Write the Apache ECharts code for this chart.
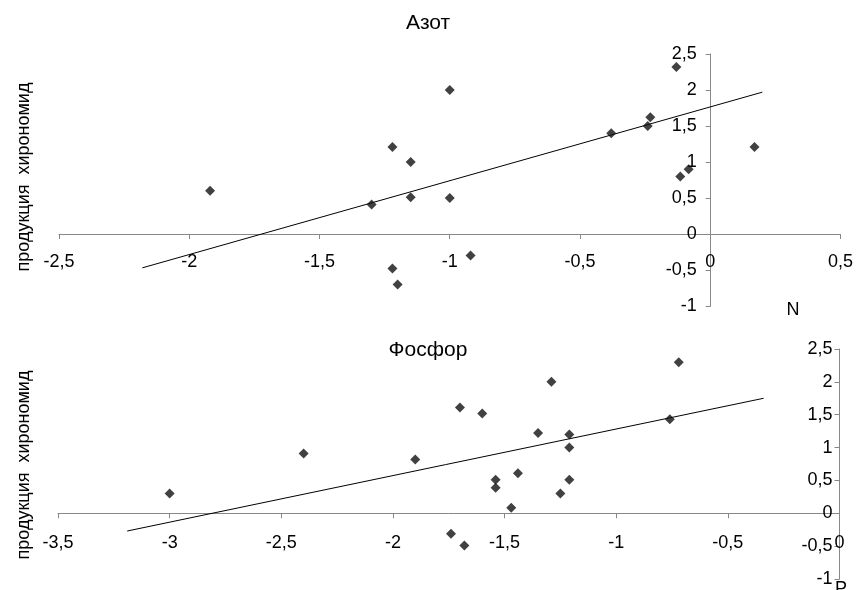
<!DOCTYPE html>
<html><head><meta charset="utf-8">
<script src="https://cdn.jsdelivr.net/npm/echarts@6/dist/echarts.min.js"></script>
<style>html,body{margin:0;padding:0;background:#fff}#c{width:856px;height:590px}</style>
</head><body><div id="c"></div>
<script>
// Азот (N)
const nX = [-1.92, -1.22, -1.15, -1.30, -1.15, -1.22, -1.20, -1.00, -1.00, -0.92, -0.38, -0.24, -0.23, -0.13, -0.115, -0.083, 0.17];
const nY = [0.60, 1.21, 1.00, 0.41, 0.51, -0.48, -0.70, 2.00, 0.50, -0.30, 1.40, 1.50, 1.62, 2.32, 0.80, 0.90, 1.21];
const nTrendX = [-2.18, 0.20];
const nTrendY = [-0.47, 1.97];
// Фосфор (P)
const pX = [-3.00, -2.40, -1.90, -1.70, -1.60, -1.29, -1.35, -1.21, -1.21, -1.44, -1.54, -1.54, -1.21, -1.25, -1.47, -1.74, -1.68, -0.76, -0.72];
const pY = [0.30, 0.91, 0.82, 1.61, 1.52, 2.00, 1.22, 1.20, 1.00, 0.61, 0.51, 0.39, 0.51, 0.30, 0.085, -0.31, -0.49, 1.43, 2.30];
const pTrendX = [-3.19, -0.34];
const pTrendY = [-0.27, 1.75];

const titles = ['Азот', 'Фосфор'];
const yName = 'продукция  хирономид';
const axisNames = ['N', 'P'];

const xRanges = [[-2.5, 0.5], [-3.5, 0]];
const yRange = [-1, 2.5];

const font = '"Liberation Sans", Arial, sans-serif';
const fmt = v => String(v).replace('.', ',');
const zip = (a, b) => a.map((v, i) => [v, b[i]]);

const grids = [
  { left: 59, top: 54, width: 782, height: 252 },
  { left: 58, top: 349, width: 781.5, height: 230 }
];

function xAx(gi, margin) {
  const g = grids[gi];
  const off = -(0 - yRange[0]) / (yRange[1] - yRange[0]) * g.height;
  return {
    type: 'value', gridIndex: gi, min: xRanges[gi][0], max: xRanges[gi][1], interval: 0.5,
    position: 'bottom', offset: off,
    splitLine: { show: false },
    axisLine: { onZero: false, lineStyle: { color: '#888', width: 1 } },
    axisTick: { show: true, length: 5, lineStyle: { color: '#888' } },
    axisLabel: { formatter: fmt, color: '#000', fontSize: 18, fontFamily: font, margin: margin }
  };
}
function yAx(gi, margin) {
  const g = grids[gi];
  const r = xRanges[gi];
  const off = -(0 - r[0]) / (r[1] - r[0]) * g.width;
  return {
    type: 'value', gridIndex: gi, min: yRange[0], max: yRange[1], interval: 0.5,
    position: 'left', offset: off,
    splitLine: { show: false },
    axisLine: { onZero: false, lineStyle: { color: '#888', width: 1 } },
    axisTick: { show: true, length: 5, lineStyle: { color: '#888' } },
    axisLabel: { formatter: fmt, color: '#000', fontSize: 18, fontFamily: font, margin: margin }
  };
}
const scat = (gi, xs, ys) => ({
  type: 'scatter', xAxisIndex: gi, yAxisIndex: gi, data: zip(xs, ys),
  symbol: 'diamond', symbolSize: 10, itemStyle: { color: '#111' }, silent: true
});
const trend = (gi, xs, ys) => ({
  type: 'line', xAxisIndex: gi, yAxisIndex: gi, data: zip(xs, ys),
  showSymbol: false, symbol: 'none', lineStyle: { color: '#000', width: 1 }, silent: true, z: 1
});

const chart = echarts.init(document.getElementById('c'), null, { renderer: 'canvas' });
chart.setOption({
  animation: false,
  backgroundColor: '#fff',
  title: [
    { text: titles[0], left: 'center', top: 8, textStyle: { fontSize: 21, fontWeight: 'normal', color: '#000', fontFamily: font } },
    { text: titles[1], left: 'center', top: 335, textStyle: { fontSize: 21, fontWeight: 'normal', color: '#000', fontFamily: font } }
  ],
  grid: grids,
  xAxis: [xAx(0, 19), xAx(1, 21)],
  yAxis: [yAx(0, 14), yAx(1, 7)],
  series: [
    trend(0, nTrendX, nTrendY), scat(0, nX, nY),
    trend(1, pTrendX, pTrendY), scat(1, pX, pY)
  ],
  graphic: [
    { type: 'text', x: 24, y: 177, rotation: Math.PI / 2, style: { text: yName, fontSize: 18, fontFamily: font, fill: '#000', textAlign: 'center', textVerticalAlign: 'middle' } },
    { type: 'text', x: 24, y: 465, rotation: Math.PI / 2, style: { text: yName, fontSize: 18, fontFamily: font, fill: '#000', textAlign: 'center', textVerticalAlign: 'middle' } },
    { type: 'text', x: 793, y: 310, style: { text: axisNames[0], fontSize: 18, fontFamily: font, fill: '#000', textAlign: 'center', textVerticalAlign: 'middle' } },
    { type: 'text', x: 841, y: 589, style: { text: axisNames[1], fontSize: 18, fontFamily: font, fill: '#000', textAlign: 'center', textVerticalAlign: 'middle' } }
  ]
});
</script></body></html>
